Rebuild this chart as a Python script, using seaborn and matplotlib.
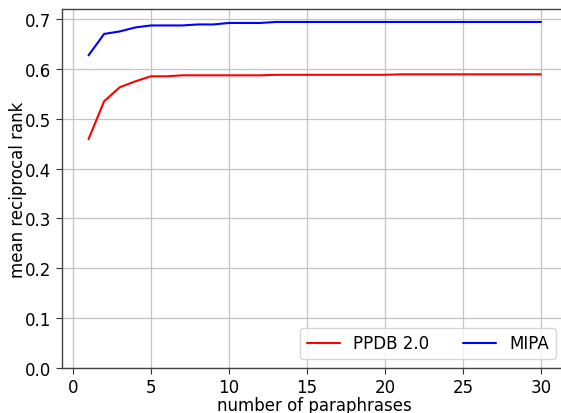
import matplotlib
matplotlib.use("Agg")
import matplotlib.pyplot as plt
import seaborn as sns
import pandas as pd

paraphrases = list(range(1, 31))
ppdb = [0.459, 0.535, 0.563, 0.575, 0.585, 0.585, 0.587, 0.587, 0.587, 0.587,
        0.587, 0.587, 0.588, 0.588, 0.588, 0.588, 0.588, 0.588, 0.588, 0.588,
        0.589, 0.589, 0.589, 0.589, 0.589, 0.589, 0.589, 0.589, 0.589, 0.589]
mipa = [0.627, 0.670, 0.675, 0.683, 0.687, 0.687, 0.687, 0.689, 0.689, 0.692,
        0.692, 0.692, 0.694, 0.694, 0.694, 0.694, 0.694, 0.694, 0.694, 0.694,
        0.694, 0.694, 0.694, 0.694, 0.694, 0.694, 0.694, 0.694, 0.694, 0.694]
series_names = ["PPDB 2.0", "MIPA"]
series_colors = ["red", "blue"]
x_ticks = [0, 5, 10, 15, 20, 25, 30]
y_ticks = [0.0, 0.1, 0.2, 0.3, 0.4, 0.5, 0.6, 0.7]

df = pd.DataFrame({
    "x": paraphrases * 2,
    "y": ppdb + mipa,
    "series": [series_names[0]] * len(ppdb) + [series_names[1]] * len(mipa),
})

sns.set_style("ticks")
plt.rcParams["font.family"] = ["DejaVu Sans"]
plt.rcParams["text.color"] = "black"
plt.rcParams["axes.labelcolor"] = "black"

fig = plt.figure(figsize=(5.61, 4.14), dpi=100)
ax = fig.add_axes([62 / 561, 1 - 369 / 414, (567.5 - 62) / 561, (369 - 10) / 414])

sns.lineplot(data=df, x="x", y="y", hue="series", palette=series_colors,
             ax=ax, linewidth=1.5, legend=True)

ax.set_xlim(-0.7, 31.7)
ax.set_ylim(0, 0.72)
ax.set_xticks(x_ticks)
ax.set_yticks(y_ticks)
ax.set_yticklabels([f"{v:.1f}" for v in y_ticks])
ax.tick_params(labelsize=12, length=4, width=0.8, colors="#333333", labelcolor="black")
ax.grid(True, color="#c4c4c4", linewidth=0.9)
ax.set_axisbelow(True)
for s in ax.spines.values():
    s.set_color("#444444")
    s.set_linewidth(1.0)
ax.set_xlabel("number of paraphrases", fontsize=12, labelpad=0, color="black")
ax.set_ylabel("mean reciprocal rank", fontsize=12, labelpad=-1, color="black")

leg = ax.legend(loc="lower right", bbox_to_anchor=(0.977, 0.025), borderaxespad=0,
                ncol=2, fontsize=12, title=None, frameon=True, handlelength=2.0,
                columnspacing=2.0)
for t in leg.get_texts():
    t.set_color("black")

fig.savefig("out.png", dpi=100)
